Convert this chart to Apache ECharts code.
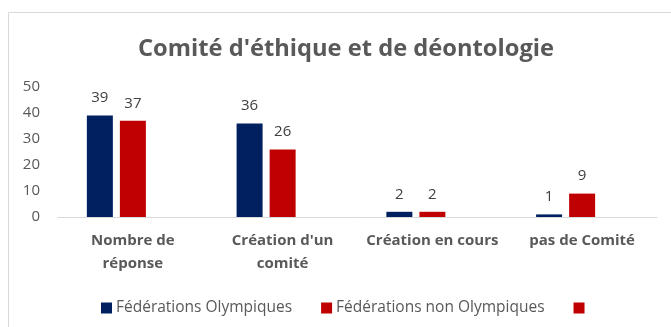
<!DOCTYPE html>
<html>
<head>
<meta charset="utf-8">
<script src="https://cdn.jsdelivr.net/npm/echarts@6/dist/echarts.min.js"></script>
<style>html,body{margin:0;padding:0;background:#fff;}#c{width:671px;height:327px;}</style>
</head>
<body>
<div id="c"></div>
<script>
var categories = ['Nombre de\nréponse', "Création d'un\ncomité", 'Création en cours', 'pas de Comité'];
var olympiques = [39, 36, 2, 1];
var nonOlympiques = [37, 26, 2, 9];
var troisieme = [null, null, null, null];
var seriesNames = ['Fédérations Olympiques', 'Fédérations non Olympiques', ' '];
var yTicks = [0, 10, 20, 30, 40, 50];

var FONT = 'Open Sans';
var chart = echarts.init(document.getElementById('c'), null, {renderer: 'canvas'});
var labelOpt = {show: true, position: 'top', distance: 10, color: '#404040', fontSize: 15, fontFamily: FONT};
chart.setOption({
  animation: false,
  backgroundColor: '#fff',
  graphic: [{type: 'rect', shape: {x: 8.5, y: 12.5, width: 700, height: 340}, style: {fill: 'none', stroke: '#d9d9d9', lineWidth: 1}, silent: true}],
  title: {
    text: "Comité d'éthique et de déontologie",
    left: 133, top: 32,
    textStyle: {fontFamily: FONT, fontSize: 23.7, fontWeight: 'bold', color: '#595959'}
  },
  legend: {
    data: seriesNames,
    left: 96, top: 295,
    icon: 'rect', itemWidth: 11, itemHeight: 11, itemGap: 29,
    textStyle: {fontFamily: FONT, fontSize: 15.5, color: '#595959', padding: [0, 0, 0, -1]}
  },
  grid: {left: 58, right: 14, top: 87, bottom: 110, containLabel: false},
  xAxis: {
    type: 'category',
    data: categories,
    axisLine: {lineStyle: {color: '#d9d9d9', width: 1}},
    axisTick: {show: false},
    axisLabel: {fontFamily: FONT, fontSize: 15, fontWeight: 'bold', color: '#595959', margin: 12, lineHeight: 23, interval: 0}
  },
  yAxis: {
    type: 'value', min: 0, max: 50, interval: 10,
    axisLine: {show: false}, axisTick: {show: false}, splitLine: {show: false},
    axisLabel: {fontFamily: FONT, fontSize: 15, color: '#595959', margin: 18,
      formatter: function (v) { return yTicks.indexOf(v) >= 0 ? String(v) : ''; }}
  },
  series: [
    {name: seriesNames[0], type: 'bar', data: olympiques, barWidth: 26, barGap: '27%', itemStyle: {color: '#002060'}, label: labelOpt},
    {name: seriesNames[1], type: 'bar', data: nonOlympiques, barWidth: 26, barGap: '27%', itemStyle: {color: '#C00000'}, label: labelOpt},
    {name: seriesNames[2], type: 'bar', data: troisieme, barWidth: 26, barGap: '27%', itemStyle: {color: '#C00000'}, label: labelOpt}
  ]
});
</script>
</body>
</html>
